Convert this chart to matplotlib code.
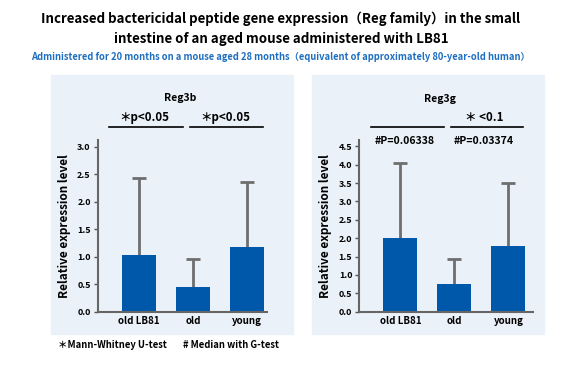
import matplotlib
matplotlib.use("Agg")
import matplotlib.pyplot as plt
from matplotlib.patches import Rectangle
from matplotlib.lines import Line2D

plt.rcParams['font.family'] = ['Noto Sans CJK JP', 'DejaVu Sans']
plt.rcParams['font.weight'] = 'bold'

# ---------- DATA ----------
groups = ["old LB81", "old", "young"]
reg3b_mean = [1.03, 0.44, 1.17]
reg3b_sd = [1.40, 0.52, 1.18]
reg3g_mean = [2.00, 0.75, 1.79]
reg3g_sd = [2.04, 0.68, 1.72]
# --------------------------

W, H = 562, 365
BAR = "#0058aa"
ERR = "#6e6e6e"
PANEL = "#eaf1f8"

fig = plt.figure(figsize=(W / 100, H / 100), dpi=100)


def fx(px):
    return px / W


def fy(py):
    return 1 - py / H


# panel backgrounds
for x0, x1 in [(51, 293), (312, 544)]:
    fig.add_artist(Rectangle((fx(x0), fy(334)), fx(x1 - x0), (334 - 75) / H,
                             transform=fig.transFigure, color=PANEL, zorder=0))


def panel(rect, means, sds, ylim, yticks, xlim):
    ax = fig.add_axes(rect)
    ax.patch.set_alpha(0)
    x = range(len(groups))
    ax.bar(x, means, width=0.63, color=BAR, zorder=2)
    eb = ax.errorbar(x, means, yerr=[[0] * len(sds), sds], fmt='none', ecolor=ERR,
                     elinewidth=2, capsize=5, capthick=2, zorder=1)
    eb[1][0].set_visible(False)  # hide lower caps
    ax.set_xlim(*xlim)
    ax.set_ylim(*ylim)
    ax.set_yticks(yticks)
    ax.set_yticklabels([f"{t:.1f}" for t in yticks], fontsize=6.5, fontweight='bold')
    ax.set_xticks(list(x))
    ax.set_xticklabels(groups, fontsize=7, fontweight='bold')
    ax.tick_params(axis='x', length=0, pad=3)
    ax.tick_params(axis='y', length=3, width=1, color='#555555', pad=2)
    for s in ['top', 'right']:
        ax.spines[s].set_visible(False)
    for s in ['left', 'bottom']:
        ax.spines[s].set_color('#666666')
        ax.spines[s].set_linewidth(1.5)
    ax.set_ylabel("Relative expression level", fontsize=8.5, fontweight='bold')
    ax.yaxis.set_label_coords(-0.158, 0.5)
    return ax


ax1 = panel([fx(97.7), fy(311.7), fx(266.7 - 97.7), (311.7 - 140) / H],
            reg3b_mean, reg3b_sd, (0, 3.12), [0, 0.5, 1.0, 1.5, 2.0, 2.5, 3.0], (-0.765, 2.365))
ax2 = panel([fx(359.3), fy(311.7), fx(532.7 - 359.3), (311.7 - 140) / H],
            reg3g_mean, reg3g_sd, (0, 4.67), [0, 0.5, 1.0, 1.5, 2.0, 2.5, 3.0, 3.5, 4.0, 4.5], (-0.76, 2.45))

# titles
fig.text(fx(281), fy(18.5), "Increased bactericidal peptide gene expression（Reg family）in the small",
         ha='center', va='center', fontsize=9.6, fontweight='bold')
fig.text(fx(281), fy(38.5), "intestine of an aged mouse administered with LB81",
         ha='center', va='center', fontsize=9.6, fontweight='bold')
fig.text(fx(280), fy(57), "Administered for 20 months on a mouse aged 28 months（equivalent of approximately 80-year-old human）",
         ha='center', va='center', fontsize=6.75, fontweight='bold', color='#1f6fc0')

# panel annotations
fig.text(fx(180), fy(98), "Reg3b", ha='center', va='center', fontsize=7.5, fontweight='bold')
fig.text(fx(144), fy(117), "＊p<0.05", ha='center', va='center', fontsize=8.3, fontweight='bold')
fig.text(fx(225), fy(117), "＊p<0.05", ha='center', va='center', fontsize=8.3, fontweight='bold')
fig.text(fx(440), fy(99), "Reg3g", ha='center', va='center', fontsize=7.5, fontweight='bold')
fig.text(fx(484), fy(117.5), "＊ <0.1", ha='center', va='center', fontsize=8.3, fontweight='bold')
fig.text(fx(405), fy(140.5), "#P=0.06338", ha='center', va='center', fontsize=7.6, fontweight='bold')
fig.text(fx(484), fy(140.5), "#P=0.03374", ha='center', va='center', fontsize=7.6, fontweight='bold')

for x0, x1 in [(109, 183), (190, 263), (371, 444), (450.7, 523.3)]:
    fig.add_artist(Line2D([fx(x0), fx(x1)], [fy(127), fy(127)], transform=fig.transFigure,
                          color='black', linewidth=1.2))

# footnotes
fig.text(fx(58), fy(345), "＊Mann-Whitney U-test", ha='left', va='center', fontsize=6.8, fontweight='bold')
fig.text(fx(183), fy(345), "# Median with G-test", ha='left', va='center', fontsize=6.8, fontweight='bold')

fig.savefig("out.png", dpi=100)
